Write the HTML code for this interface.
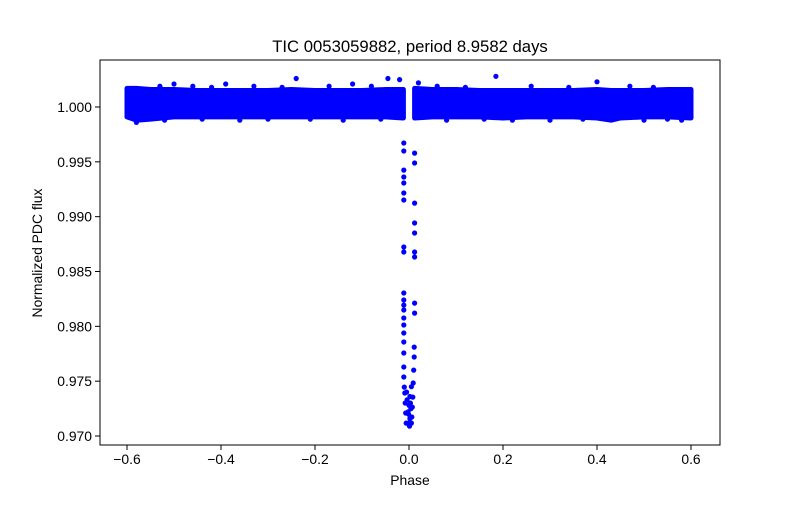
<!DOCTYPE html>
<html><head><meta charset="utf-8"><style>
body{margin:0;background:#fff}
svg text{font-family:"Liberation Sans","DejaVu Sans",sans-serif;fill:#000}
</style></head><body>
<svg id="chart" width="800" height="500" viewBox="0 0 800 500">
<rect width="800" height="500" fill="#fff"/>
<text x="410" y="52" font-size="16.7" text-anchor="middle">TIC 0053059882, period 8.9582 days</text>
<g id="plot"></g>
<g id="axes"></g>
<text x="410" y="485" font-size="13.9" text-anchor="middle">Phase</text>
<text transform="translate(42,253) rotate(-90)" font-size="13.9" text-anchor="middle">Normalized PDC flux</text>
</svg>
<script>
const xTicks=[-0.6,-0.4,-0.2,0.0,0.2,0.4,0.6];
const xTickLabels=["\u22120.6","\u22120.4","\u22120.2","0.0","0.2","0.4","0.6"];
const yTicks=[0.970,0.975,0.980,0.985,0.990,0.995,1.000];
const yTickLabels=["0.970","0.975","0.980","0.985","0.990","0.995","1.000"];
// dense out-of-transit band: phase bins with lower / upper flux envelope
const bandLeftPhase=[-0.6,-0.58,-0.55,-0.5,-0.45,-0.4,-0.35,-0.3,-0.25,-0.2,-0.15,-0.1,-0.05,-0.012];
const bandLeftHigh=[1.0017,1.0017,1.0016,1.0016,1.0015,1.0015,1.0015,1.0015,1.0016,1.0015,1.0015,1.0015,1.0016,1.0016];
const bandLeftLow=[0.9991,0.9988,0.9989,0.9991,0.9991,0.9991,0.9991,0.9991,0.9991,0.9991,0.9991,0.9991,0.9991,0.9990];
const bandRightPhase=[0.012,0.05,0.1,0.15,0.2,0.25,0.3,0.35,0.4,0.43,0.45,0.5,0.55,0.6];
const bandRightHigh=[1.0017,1.0016,1.0016,1.0015,1.0015,1.0015,1.0015,1.0015,1.0016,1.0015,1.0015,1.0015,1.0016,1.0016];
const bandRightLow=[0.9990,0.9991,0.9991,0.9991,0.9990,0.9991,0.9991,0.9991,0.9990,0.9988,0.9990,0.9991,0.9991,0.9990];
// scattered outliers and in-transit points
const outPhase=[-0.24,-0.045,-0.02,0.185,0.02,0.4,-0.39,-0.5,-0.12,-0.58,0.3,-0.3,0.55,
-0.53,-0.46,-0.42,-0.33,-0.27,-0.17,-0.08,0.06,0.12,0.26,0.34,0.47,0.52,
-0.52,-0.44,-0.36,-0.21,-0.14,-0.06,0.08,0.16,0.22,0.37,0.5,0.58];
const outFlux=[1.0026,1.0026,1.0025,1.0028,1.0022,1.0023,1.0021,1.0021,1.0021,0.9986,0.9988,0.9989,0.9989,
1.0019,1.0019,1.0018,1.0019,1.0018,1.0019,1.0019,1.0019,1.0018,1.0019,1.0018,1.0019,1.0018,
0.9988,0.9989,0.9988,0.9989,0.9988,0.9989,0.9988,0.9989,0.9988,0.9989,0.9988,0.9988];
const dipPhase=[-0.011,-0.011,-0.011,-0.011,-0.011,-0.011,-0.011,-0.011,-0.011,-0.011,-0.011,-0.011,-0.011,-0.011,-0.011,-0.011,-0.011,-0.011,-0.011,-0.011,-0.010,-0.009,-0.008,-0.007,-0.006,
0.012,0.012,0.012,0.012,0.012,0.012,0.012,0.012,0.012,0.011,0.011,0.010,0.009,0.008,0.007,0.006,0.005,
-0.004,-0.002,0.000,0.002,0.004,0.001,0.003,-0.001,0.000,0.002,-0.005,0.005];
const dipFlux=[0.99672,0.99599,0.99425,0.99362,0.99307,0.99216,0.99152,0.98723,0.98678,0.98304,0.98240,0.98194,0.98149,0.98076,0.98012,0.97939,0.97857,0.97757,0.97629,0.97538,0.97446,0.97392,0.97301,0.97210,0.97118,
0.99580,0.99489,0.99124,0.98942,0.98851,0.98678,0.98632,0.98212,0.98121,0.97811,0.97720,0.97601,0.97483,0.97355,0.97264,0.97173,0.97118,
0.9733,0.9722,0.9712,0.9716,0.9725,0.9709,0.9730,0.9720,0.9728,0.9736,0.9740,0.9745];

const L=100,R=720,T=60,B=445;
const X=v=>409+v*470;
const Y=v=>107+(1-v)/0.001*10.967;
const NS='http://www.w3.org/2000/svg';
const plot=document.getElementById('plot'), axes=document.getElementById('axes');
function mk(tag,attrs,parent){const e=document.createElementNS(NS,tag);for(const k in attrs)e.setAttribute(k,attrs[k]);parent.appendChild(e);return e;}
const BLUE='#0000ff';
function band(ph,hi,lo,name){
  let pts=[];
  for(let i=0;i<ph.length;i++)pts.push(X(ph[i]).toFixed(1)+','+Y(hi[i]).toFixed(1));
  for(let i=ph.length-1;i>=0;i--)pts.push(X(ph[i]).toFixed(1)+','+Y(lo[i]).toFixed(1));
  const p=mk('polygon',{points:pts.join(' '),fill:BLUE,stroke:BLUE,'stroke-width':5,'stroke-linejoin':'round'},plot);
  
  
}
band(bandLeftPhase,bandLeftHigh,bandLeftLow,'band-left');
band(bandRightPhase,bandRightHigh,bandRightLow,'band-right');
function dots(ph,fl,name){
  for(let i=0;i<ph.length;i++){
    const c=mk('circle',{cx:X(ph[i]).toFixed(1),cy:Y(fl[i]).toFixed(1),r:2.6,fill:BLUE},plot);
    
    
  }
}
dots(outPhase,outFlux,'outlier-point');
dots(dipPhase,dipFlux,'transit-point');
const fr=mk('rect',{x:L,y:T,width:R-L,height:B-T,fill:'none',stroke:'#000','stroke-width':1},axes);


xTicks.forEach((v,i)=>{
  const x=X(v);
  const t=mk('line',{x1:x,x2:x,y1:B,y2:B+5,stroke:'#000'},axes);
  
  
  const l=mk('text',{x:x,y:B+19,'font-size':13.9,'text-anchor':'middle'},axes);
  l.textContent=xTickLabels[i];
  
  
});
yTicks.forEach((v,i)=>{
  const y=Y(v);
  const t=mk('line',{x1:L-5,x2:L,y1:y,y2:y,stroke:'#000'},axes);
  
  
  const l=mk('text',{x:L-8,y:y+5,'font-size':13.9,'text-anchor':'end'},axes);
  l.textContent=yTickLabels[i];
  
  
});
</script>
</body></html>
